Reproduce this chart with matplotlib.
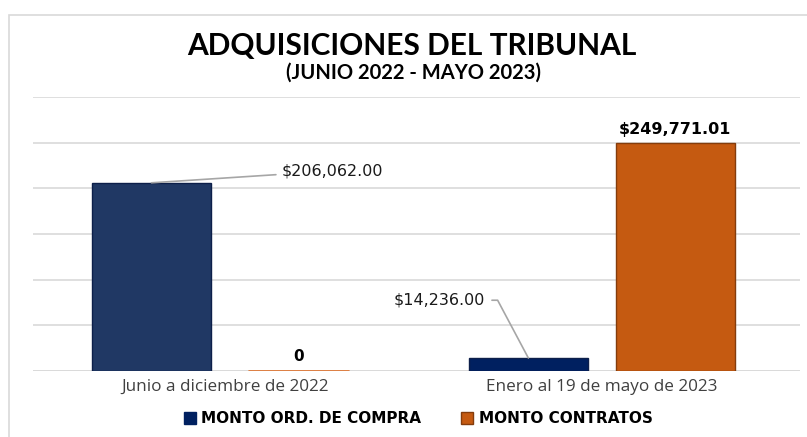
import matplotlib.pyplot as plt
from matplotlib.patches import Rectangle, Patch

# Data
categories = ['Junio a diciembre de 2022', 'Enero al 19 de mayo de 2023']
orden_compra = [206062.00, 14236.00]
contratos = [0, 249771.01]
series_names = ['MONTO ORD. DE COMPRA', 'MONTO CONTRATOS']

fig = plt.figure(figsize=(8.07, 4.37), dpi=100)
ax = fig.add_axes([0.041, 0.151, 0.950, 0.627])

# chart frame
fig.patches.append(Rectangle((0.011, -0.02), 1.05, 0.985, transform=fig.transFigure,
                             fill=False, edgecolor='#d9d9d9', linewidth=1.2))

x = range(len(categories))
w = 0.316
off = 0.195
blue_colors = ['#203864', '#002060']
ax.bar([i - off for i in x], orden_compra, width=w, color=blue_colors,
       edgecolor='#0d1f4a', linewidth=1.0, zorder=3)
ax.bar([i + off for i in x], contratos, width=[0.27, w], color='#c55a11',
       edgecolor='#843c0c', linewidth=1.0, zorder=3)
# zero bar shown as a thin line
ax.plot([off - 0.135, off + 0.135], [0, 0], color='#e07b39',
        linewidth=2, zorder=4, solid_capstyle='butt')

ax.set_xlim(-0.509, 1.525)
ax.set_ylim(0, 300000)
ax.set_yticks(range(0, 300001, 50000))
ax.yaxis.grid(True, color='#d9d9d9', linewidth=1.2, zorder=0)
ax.tick_params(axis='y', left=False, labelleft=False)
ax.tick_params(axis='x', bottom=False, pad=2)
ax.set_xticks(list(x))
ax.set_xticklabels(categories, fontsize=12.3, color='#404040', family='Open Sans')
for s in ax.spines.values():
    s.set_visible(False)
ax.axhline(0, color='#d9d9d9', linewidth=1.2, zorder=2)

# value labels
lbl = dict(fontsize=11.5, color='#1a1a1a', family='DejaVu Sans')
ax.annotate('${:,.2f}'.format(orden_compra[0]), xy=(0 - off, orden_compra[0]),
            xytext=(0.15, 219000), va='center', ha='left',
            arrowprops=dict(arrowstyle='-', color='#a6a6a6', lw=1.2, shrinkA=2, shrinkB=0), **lbl)
ax.annotate('${:,.2f}'.format(orden_compra[1]), xy=(1 - off, orden_compra[1]),
            xytext=(0.69, 77500), va='center', ha='right',
            arrowprops=dict(arrowstyle='-', color='#a6a6a6', lw=1.2, shrinkA=3, shrinkB=0,
                            connectionstyle='angle,angleA=0,angleB=118,rad=0'), **lbl)
ax.text(0 + off, 8000, '{:,.0f}'.format(contratos[0]), ha='center', va='bottom',
        fontsize=11, fontweight='bold', family='DejaVu Sans')
ax.text(1 + off, contratos[1] + 6000, '${:,.2f}'.format(contratos[1]), ha='center', va='bottom',
        fontsize=11.5, fontweight='bold', family='DejaVu Sans')

fig.text(0.51, 0.894, 'ADQUISICIONES DEL TRIBUNAL', ha='center', va='center',
         fontsize=21.5, fontweight='bold', family='Lato')
fig.text(0.513, 0.834, '(JUNIO 2022 - MAYO 2023)', ha='center', va='center',
         fontsize=14.5, fontweight='bold', family='Lato')

handles = [Patch(facecolor='#002060', edgecolor='#002060'),
           Patch(facecolor='#c55a11', edgecolor='#843c0c')]
fig.legend(handles, series_names, loc='center', bbox_to_anchor=(0.518, 0.042), ncol=2,
           frameon=False, prop={'family': 'DejaVu Sans', 'weight': 'bold', 'size': 11},
           handlelength=0.8, handleheight=0.8, handletextpad=0.35, columnspacing=2.6)

fig.savefig('out.png', dpi=100)
